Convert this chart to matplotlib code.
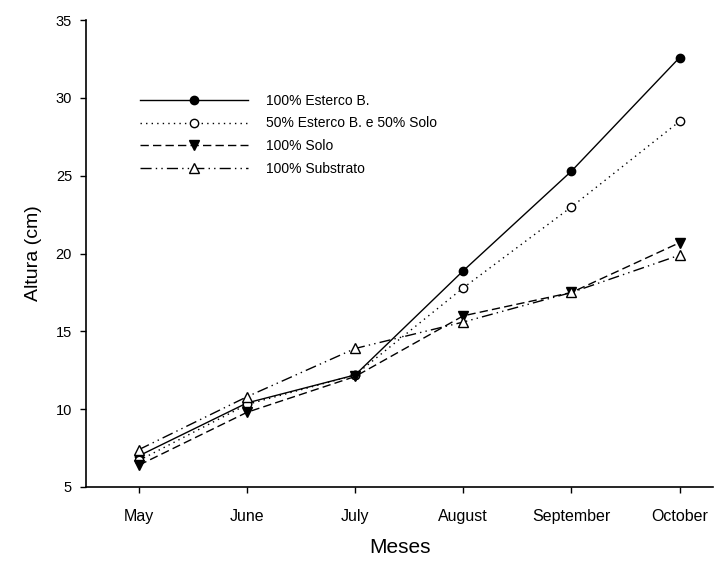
import matplotlib.pyplot as plt

plt.rcParams['font.family'] = ['Liberation Sans', 'DejaVu Sans']

months = ["May", "June", "July", "August", "September", "October"]

esterco_100 = [7.0, 10.4, 12.2, 18.9, 25.3, 32.6]
esterco_50_solo_50 = [6.7, 10.3, 12.2, 17.8, 23.0, 28.5]
solo_100 = [6.4, 9.8, 12.1, 16.0, 17.5, 20.7]
substrato_100 = [7.4, 10.8, 13.9, 15.6, 17.5, 19.9]

labels = ["100% Esterco B.", "50% Esterco B. e 50% Solo", "100% Solo", "100% Substrato"]

x = list(range(len(months)))

fig = plt.figure(figsize=(7.16, 5.61), dpi=100)
ax = fig.add_axes([0.120, 0.132, 0.876, 0.832])

ax.plot(x, esterco_100, color='black', linestyle='-', linewidth=1,
        marker='o', markersize=6, markerfacecolor='black', label=labels[0])
ax.plot(x, esterco_50_solo_50, color='black', linestyle=(0, (1, 3)), linewidth=1,
        marker='o', markersize=6, markerfacecolor='white', label=labels[1])
ax.plot(x, solo_100, color='black', linestyle=(0, (6, 3)), linewidth=1,
        marker='v', markersize=7, markerfacecolor='black', label=labels[2])
ax.plot(x, substrato_100, color='black', linestyle=(0, (8, 3, 1, 3, 1, 3)), linewidth=1,
        marker='^', markersize=7, markerfacecolor='white', label=labels[3])

ax.set_xlim(-0.49, 5.31)
ax.set_ylim(5, 35)
ax.set_xticks(x)
ax.set_xticklabels(months)
ax.set_yticks(range(5, 36, 5))

for side in ('top', 'right'):
    ax.spines[side].set_visible(False)
ax.spines['left'].set_linewidth(1.2)
ax.spines['bottom'].set_linewidth(1.2)
ax.tick_params(direction='out', length=4, width=1)
ax.tick_params(axis='x', labelsize=11.5, pad=12)
ax.tick_params(axis='y', labelsize=10.5, pad=6)

ax.set_xlabel("Meses", fontsize=15, labelpad=10)
ax.set_ylabel("Altura (cm)", fontsize=14, labelpad=10)

ax.legend(loc='upper left', bbox_to_anchor=(0.075, 0.857), frameon=False,
          fontsize=10, handlelength=7.8, handletextpad=1.3, labelspacing=0.62,
          borderpad=0)

plt.savefig("out.png", dpi=100)
